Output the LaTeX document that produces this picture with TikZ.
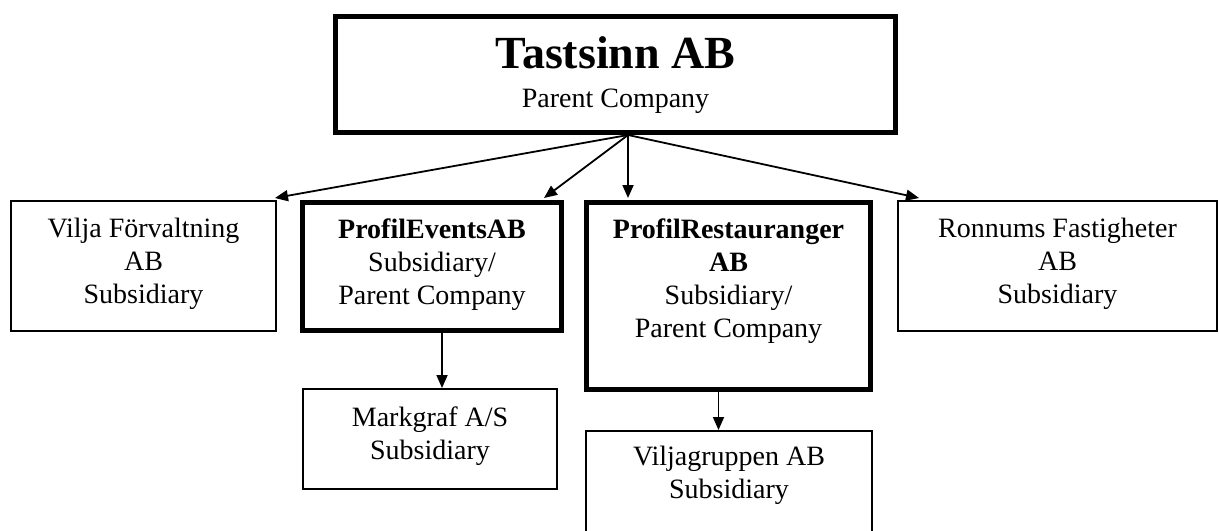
\documentclass[tikz,border=0pt]{standalone}
\usepackage{fontspec}
\setmainfont{Liberation Serif}
\usetikzlibrary{arrows.meta, positioning}
\tikzset{
    thinbox/.style={draw, line width=1pt, inner sep=0pt},
    thickbox/.style={draw, line width=2.5pt, inner sep=0pt},
    boxtext/.style={align=center, inner sep=0pt, font=\fontsize{14}{16.5}\selectfont},
    link/.style={line width=0.9pt, -{Triangle[length=6.5pt, width=5.5pt]}}
}
\begin{document}
\begin{tikzpicture}[x=0.5pt, y=-0.5pt]
    \useasboundingbox (0,0) rectangle (1219,530);
    \node[thickbox, minimum width=280pt, minimum height=58pt] (tast) at (615.5, 74.5) {};
    \node[thinbox, minimum width=132.5pt, minimum height=65pt] (vilja) at (143.5, 266) {};
    \node[thickbox, minimum width=129.5pt, minimum height=64pt] (events) at (432, 266.5) {};
    \node[thickbox, minimum width=142pt, minimum height=93.5pt] (resta) at (728.5, 296) {};
    \node[thinbox, minimum width=159.5pt, minimum height=65pt] (ronnums) at (1057.5, 266) {};
    \node[thinbox, minimum width=127pt, minimum height=50pt] (markgraf) at (430, 439) {};
    \node[thinbox, minimum width=143pt, minimum height=59pt] (viljag) at (729, 490) {};
    % texts
    \node[boxtext, below=11pt of tast.north] (tastT) {{\fontsize{23}{24}\selectfont\bfseries Tastsinn AB}\\[3pt]Parent Company};
    \node[boxtext, below=9pt of vilja.north] (viljaT) {Vilja Förvaltning\\AB\\Subsidiary};
    \node[boxtext, below=9pt of events.north] (eventsT) {\textbf{ProfilEventsAB}\\Subsidiary/\\Parent Company};
    \node[boxtext, below=9pt of resta.north] (restaT) {\textbf{ProfilRestauranger}\\\textbf{AB}\\Subsidiary/\\Parent Company};
    \node[boxtext, below=9pt of ronnums.north] (ronnumsT) {Ronnums Fastigheter\\AB\\Subsidiary};
    \node[boxtext, below=9pt of markgraf.north] (markgrafT) {Markgraf A/S\\Subsidiary};
    \node[boxtext, below=8pt of viljag.north] (viljagT) {Viljagruppen AB\\Subsidiary};
    % links
    \coordinate (hub) at ([xshift=6.25pt]tast.south);
    \draw[link] (hub) -- ([xshift=-1pt, yshift=1pt]vilja.north east);
    \draw[link] (hub) -- ([xshift=-10pt, yshift=1pt]events.north east);
    \draw[link] (hub) -- ([yshift=1pt]hub |- resta.north);
    \draw[link] (hub) -- ([xshift=11pt, yshift=1pt]ronnums.north west);
    \draw[link] ([xshift=5pt]events.south) -- ([xshift=5pt]events.south |- markgraf.north);
    \draw[link] ([xshift=-5pt]resta.south) -- ([xshift=-5pt]resta.south |- viljag.north);
\end{tikzpicture}
\end{document}
